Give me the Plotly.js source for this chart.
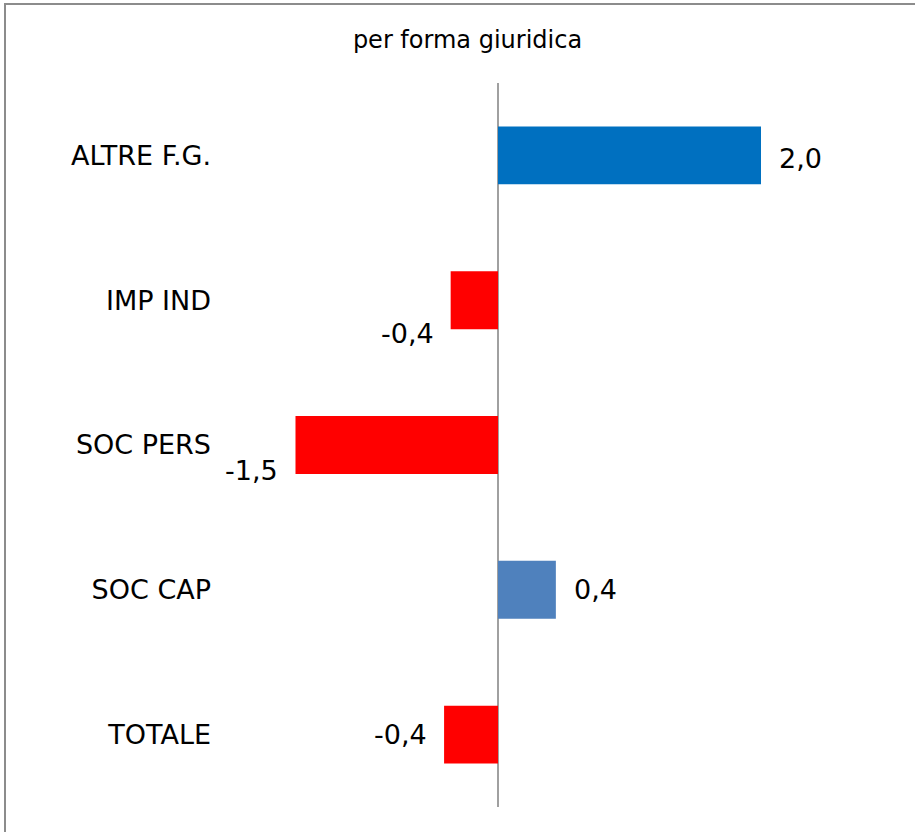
<!DOCTYPE html>
<html>
<head>
<meta charset="utf-8">
<script src="https://cdn.plot.ly/plotly-3.0.1.min.js"></script>
<style>
html, body { margin: 0; padding: 0; background: #fff; overflow: hidden; }
#chart { position: absolute; left: 0; top: 0; width: 915px; height: 832px; }
#frame { position: absolute; left: 4px; top: 3px; width: 1000px; height: 1000px; border: 2px solid #8c8c8c; pointer-events: none; }
</style>
</head>
<body>
<div id="chart"></div>
<div id="frame"></div>
<script>
// Data
const categories = ["ALTRE F.G.", "IMP IND", "SOC PERS", "SOC CAP", "TOTALE"];
const values = [2.0, -0.36, -1.54, 0.44, -0.41];
const barColors = ["#0070C0", "#FF0000", "#FF0000", "#4F81BD", "#FF0000"];

// label vertical offsets (px, negative = down), mimicking the original placement
const labelYShift = [-3, -33, -25, 0, 0];

function fmt(v) { return v.toFixed(1).replace('.', ','); }

const trace = {
  type: 'bar',
  orientation: 'h',
  y: categories,
  x: values,
  marker: { color: barColors },
  hoverinfo: 'none'
};

const annotations = categories.map((c, i) => ({
  x: values[i],
  y: c,
  xref: 'x',
  yref: 'y',
  text: fmt(values[i]),
  showarrow: false,
  xanchor: values[i] >= 0 ? 'left' : 'right',
  yanchor: 'middle',
  xshift: values[i] >= 0 ? 16 : -15,
  yshift: labelYShift[i],
  font: { family: 'DejaVu Sans, Verdana, sans-serif', size: 27, color: '#000' }
}));

const layout = {
  width: 915,
  height: 832,
  margin: { l: 230, r: 25, t: 83, b: 25, pad: 0 },
  paper_bgcolor: '#fff',
  plot_bgcolor: '#fff',
  showlegend: false,
  bargap: 0.6,
  title: {
    text: 'per forma giuridica',
    font: { family: 'DejaVu Sans, Verdana, sans-serif', size: 24, color: '#000' },
    xref: 'container', yref: 'container',
    x: 467.5 / 915, y: 1 - 40 / 832,
    xanchor: 'center', yanchor: 'middle'
  },
  xaxis: {
    range: [-2.038, 2.981],
    showgrid: false,
    showticklabels: false,
    ticks: '',
    showline: false,
    zeroline: true,
    zerolinecolor: '#a0a0a0',
    zerolinewidth: 1.5,
    fixedrange: true
  },
  yaxis: {
    type: 'category',
    categoryorder: 'array',
    categoryarray: categories,
    autorange: 'reversed',
    showgrid: false,
    showline: false,
    zeroline: false,
    ticks: '',
    ticklabelstandoff: 18,
    tickfont: { family: 'DejaVu Sans, Verdana, sans-serif', size: 27, color: '#000' },
    fixedrange: true
  },
  annotations: annotations
};

Plotly.newPlot('chart', [trace], layout, { displayModeBar: false, staticPlot: true });
</script>
</body>
</html>
